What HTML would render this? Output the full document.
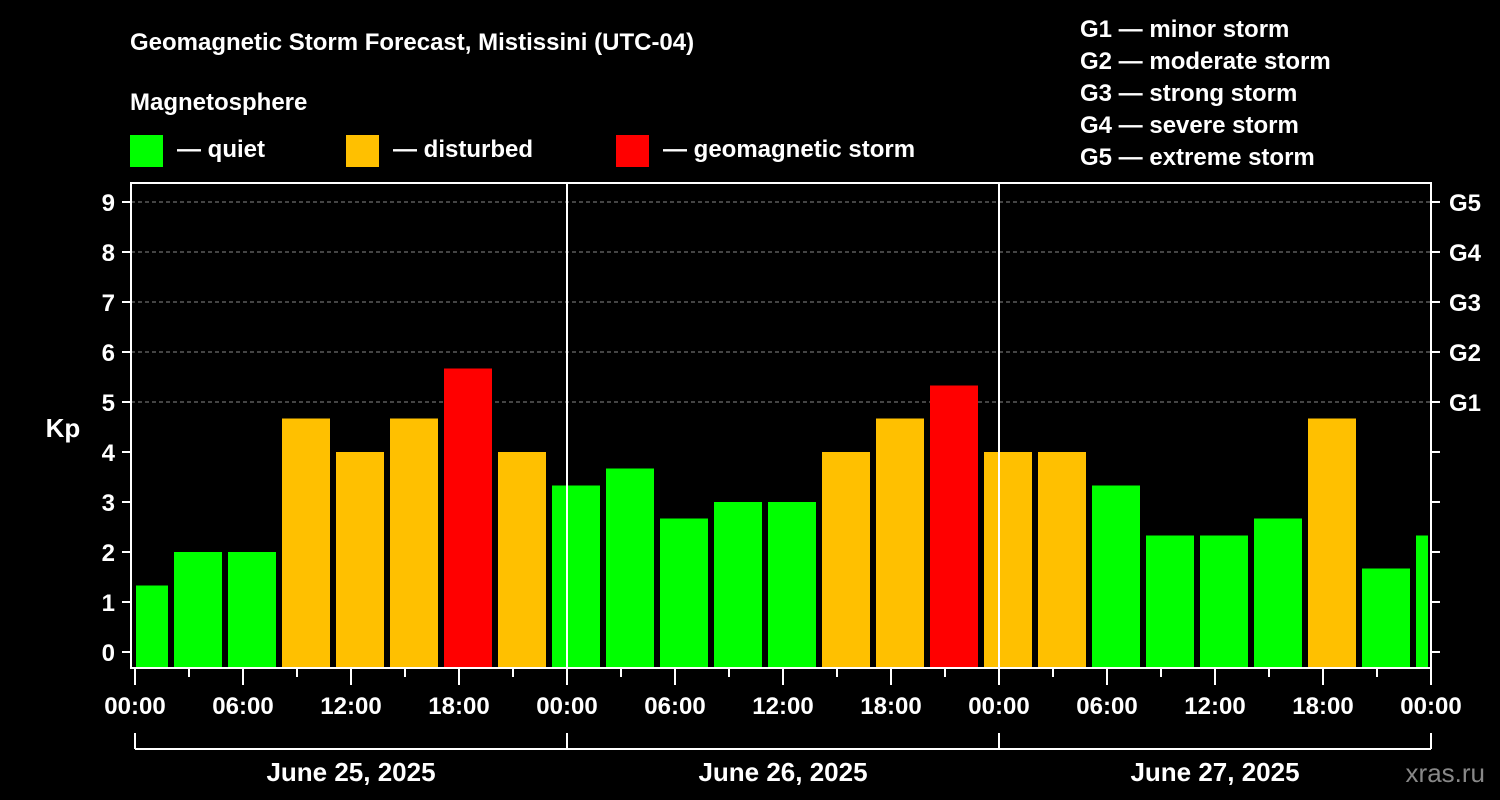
<!DOCTYPE html>
<html><head><meta charset="utf-8"><style>
html,body{margin:0;padding:0;background:#000;}
svg{display:block;font-family:"Liberation Sans",Arial,sans-serif;font-weight:bold;}
</style></head><body>
<svg id="c" width="1500" height="800" viewBox="0 0 1500 800">
<text x="130" y="50" fill="#fff" font-size="24">Geomagnetic Storm Forecast, Mistissini (UTC-04)</text>
<text x="130" y="110" fill="#fff" font-size="24">Magnetosphere</text>
<g><rect x="130" y="135" width="33" height="32" fill="#00ff00"/><text x="177" y="157" fill="#fff" font-size="24">— quiet</text></g>
<g><rect x="346" y="135" width="33" height="32" fill="#ffc000"/><text x="393" y="157" fill="#fff" font-size="24">— disturbed</text></g>
<g><rect x="616" y="135" width="33" height="32" fill="#ff0000"/><text x="663" y="157" fill="#fff" font-size="24">— geomagnetic storm</text></g>
<g fill="#fff" font-size="24">
<text x="1080" y="37">G1 — minor storm</text><text x="1080" y="69">G2 — moderate storm</text><text x="1080" y="101">G3 — strong storm</text><text x="1080" y="133">G4 — severe storm</text><text x="1080" y="165">G5 — extreme storm</text>
</g>
<text x="63" y="437" fill="#fff" font-size="26" text-anchor="middle">Kp</text>
<text x="1485" y="782" fill="#888" font-size="26" font-weight="normal" text-anchor="end">xras.ru</text>
<g id="grid"></g><g id="bars"></g><g id="axes"></g>
</svg>
<script>
const kpValues=[1.33,2,2,4.67,4,4.67,5.67,4,3.33,3.67,2.67,3,3,4,4.67,5.33,4,4,3.33,2.33,2.33,2.67,4.67,1.67,2.33];
const yTicks=[0,1,2,3,4,5,6,7,8,9];
const gLabels=["","","","","","G1","G2","G3","G4","G5"];
const hourLabels=["00:00","06:00","12:00","18:00"];
const dayLabels=["June 25, 2025","June 26, 2025","June 27, 2025"];
const NS="http://www.w3.org/2000/svg";
const X0=135,PXH=18,PL=131,PR=1431,PT=183,PB=668;
const x=h=>X0+h*PXH, y=k=>652-k*50;
function mk(t,a,p){const e=document.createElementNS(NS,t);for(const k in a)e.setAttribute(k,a[k]);p.appendChild(e);return e;}
const grid=document.getElementById('grid'),bars=document.getElementById('bars'),axes=document.getElementById('axes');
yTicks.forEach(k=>{
 if(k>=5){const l=mk('line',{x1:PL,x2:PR,y1:y(k),y2:y(k),stroke:'#888','stroke-dasharray':'4,3','stroke-width':1},grid);
 }
 mk('line',{x1:122,x2:PL,y1:y(k),y2:y(k),stroke:'#fff','stroke-width':2},axes);
 mk('line',{x1:PR,x2:PR+9,y1:y(k),y2:y(k),stroke:'#fff','stroke-width':2},axes);
 const t=mk('text',{x:115,y:y(k)+9,fill:'#fff','font-size':24,'text-anchor':'end'},axes);t.textContent=k;
 
 if(gLabels[k]){const g=mk('text',{x:1449,y:y(k)+9,fill:'#fff','font-size':24},axes);g.textContent=gLabels[k];
 }
});
kpValues.forEach((v,i)=>{
 const c=v>=5?'#ff0000':(v>=4?'#ffc000':'#00ff00');
 let l=x(i*3+0.5)-24,r=l+48;l=Math.max(l,PL+5);r=Math.min(r,PR-3);
 const b=mk('rect',{x:l,y:y(v),width:r-l,height:PB-1-y(v),fill:c},bars);
 
});
mk('rect',{x:PL,y:PT,width:PR-PL,height:PB-PT,fill:'none',stroke:'#fff','stroke-width':2},axes);
for(let d=1;d<3;d++){const l=mk('line',{x1:x(d*24),x2:x(d*24),y1:PT,y2:PB,stroke:'#fff','stroke-width':2},axes);
 }
for(let h=0;h<=72;h+=3){const major=h%6===0;
 mk('line',{x1:x(h),x2:x(h),y1:PB,y2:major?685:677,stroke:'#fff','stroke-width':2},axes);
 if(major&&h%6===0&&h%6===0&&(h%6===0)&&(h%6===0)&&(h%6===0)&&(h%6===0)&&(h%6===0)&&h%6===0&&h%6===0&&(h%6===0)&&h%6===0&&h%6===0&&h%6===0&&(h%6===0)&&h%6===0&&h%6===0&&h%6===0&&(h%6===0)&&true&&(h%18===0||h%6===0)&&(h%6===0)&&(h%6===0)&&(h%6===0)&&(h%6===0)&&(h%6===0)&&(h%6===0)&&true&&(h%6===0)&&(h%6===0)&&(h%6===0)&&(h%6===0)&&(h%6===0)&&(h%6===0)&&true&&(h%6===0)&&(h%6===0)&&h%6===0){}
}
for(let h=0;h<=72;h+=6){const t=mk('text',{x:x(h),y:714,fill:'#fff','font-size':24,'text-anchor':'middle'},axes);
 t.textContent=hourLabels[(h/6)%4];}
mk('line',{x1:x(0),x2:x(72),y1:749,y2:749,stroke:'#fff','stroke-width':2},axes);
for(let d=0;d<=3;d++)mk('line',{x1:x(d*24),x2:x(d*24),y1:733,y2:749,stroke:'#fff','stroke-width':2},axes);
dayLabels.forEach((s,d)=>{const t=mk('text',{x:x(d*24+12),y:781,fill:'#fff','font-size':26,'text-anchor':'middle'},axes);
 t.textContent=s;});
</script>
</body></html>
